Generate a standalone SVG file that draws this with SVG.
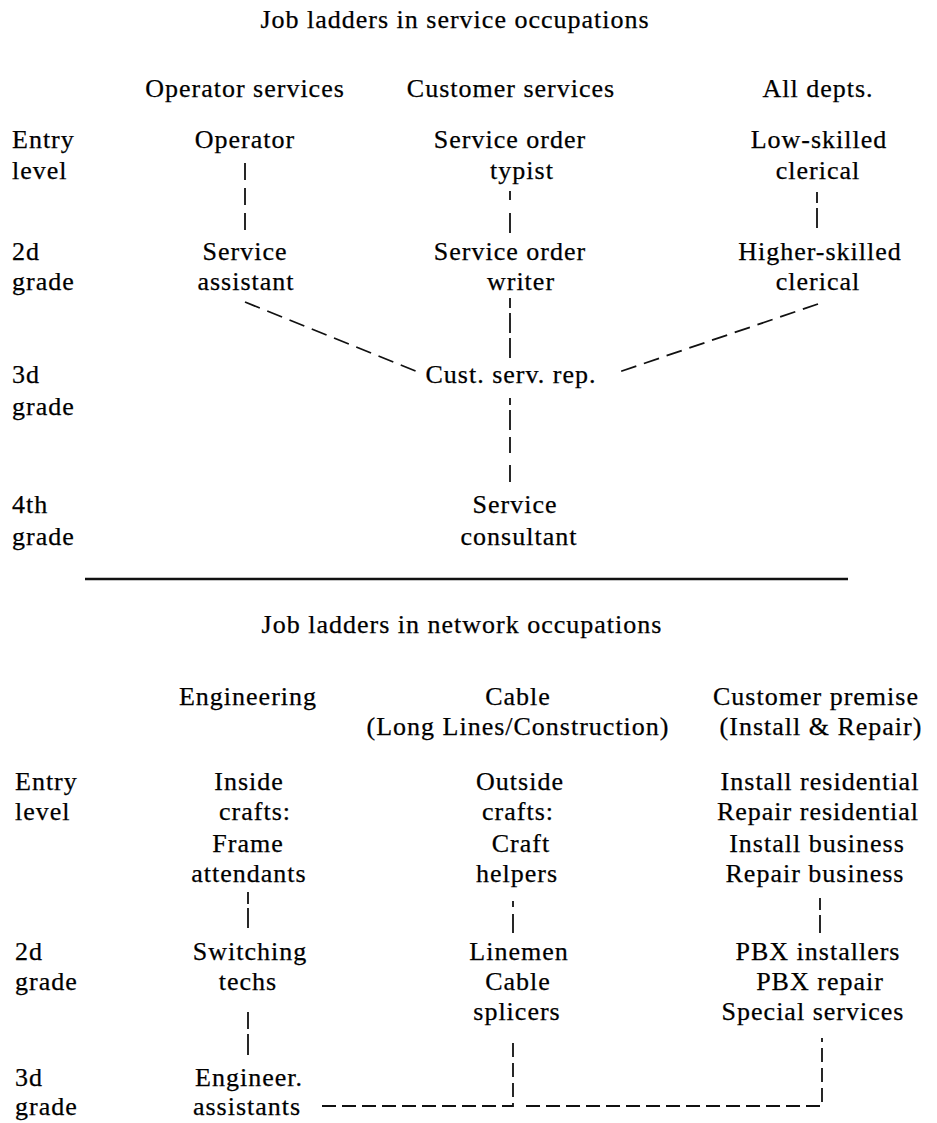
<svg xmlns="http://www.w3.org/2000/svg" width="937" height="1123" viewBox="0 0 937 1123">
<style>
text{font-family:"Liberation Serif","Times New Roman",serif;font-size:26px;letter-spacing:1px;fill:#000;stroke:#000;stroke-width:0.25}
.c{text-anchor:middle}
.dash{fill:none;stroke:#111;stroke-width:1.8;stroke-dasharray:17 8}
.hd{fill:none;stroke:#111;stroke-width:1.8;stroke-dasharray:14 6}
.rule{stroke:#111;stroke-width:2.5}
</style>
<rect width="937" height="1123" fill="#fff"/>

<!-- ===== Service occupations ===== -->
<g id="title-service"><text class="c" x="455" y="28">Job ladders in service occupations</text></g>
<g id="headers-service">
<text class="c" x="245" y="97">Operator services</text>
<text class="c" x="511" y="97">Customer services</text>
<text class="c" x="818" y="97">All depts.</text>
</g>
<g id="rows-service">
<text x="12" y="148">Entry<tspan x="12" y="179">level</tspan></text>
<text x="12" y="260">2d<tspan x="12" y="290">grade</tspan></text>
<text x="12" y="383">3d<tspan x="12" y="415">grade</tspan></text>
<text x="12" y="513">4th<tspan x="12" y="545">grade</tspan></text>
</g>
<g id="operator"><text class="c" x="245" y="148">Operator</text></g>
<g id="service-order-typist"><text class="c" x="510" y="148">Service order<tspan x="522" y="179">typist</tspan></text></g>
<g id="low-skilled-clerical"><text class="c" x="819" y="148">Low-skilled<tspan x="818" y="179">clerical</tspan></text></g>
<g id="service-assistant"><text class="c" x="245" y="260">Service<tspan x="246" y="290">assistant</tspan></text></g>
<g id="service-order-writer"><text class="c" x="510" y="260">Service order<tspan x="521" y="290">writer</tspan></text></g>
<g id="higher-skilled-clerical"><text class="c" x="820" y="260">Higher-skilled<tspan x="818" y="290">clerical</tspan></text></g>
<g id="cust-serv-rep"><text class="c" x="511" y="383">Cust. serv. rep.</text></g>
<g id="service-consultant"><text class="c" x="515" y="513">Service<tspan x="519" y="545">consultant</tspan></text></g>

<g id="divider"><line class="rule" x1="85" y1="579" x2="848" y2="579"/></g>

<!-- ===== Network occupations ===== -->
<g id="title-network"><text class="c" x="462" y="633">Job ladders in network occupations</text></g>
<g id="headers-network">
<text class="c" x="248" y="705">Engineering</text>
<text class="c" x="518" y="705">Cable<tspan x="518" y="735">(Long Lines/Construction)</tspan></text>
<text class="c" x="816" y="705">Customer premise<tspan x="821" y="735">(Install &amp; Repair)</tspan></text>
</g>
<g id="rows-network">
<text x="15" y="790">Entry<tspan x="15" y="820">level</tspan></text>
<text x="15" y="960">2d<tspan x="15" y="990">grade</tspan></text>
<text x="15" y="1086">3d<tspan x="15" y="1115">grade</tspan></text>
</g>
<g id="inside-crafts"><text class="c" x="249" y="790">Inside<tspan x="255" y="820">crafts:</tspan><tspan x="248" y="852">Frame</tspan><tspan x="249" y="882">attendants</tspan></text></g>
<g id="outside-crafts"><text class="c" x="520" y="790">Outside<tspan x="518" y="820">crafts:</tspan><tspan x="521" y="852">Craft</tspan><tspan x="517" y="882">helpers</tspan></text></g>
<g id="customer-premise-entry"><text class="c" x="820" y="790">Install residential<tspan x="818" y="820">Repair residential</tspan><tspan x="817" y="852">Install business</tspan><tspan x="815" y="882">Repair business</tspan></text></g>
<g id="switching-techs"><text class="c" x="250" y="960">Switching<tspan x="248" y="990">techs</tspan></text></g>
<g id="linemen-splicers"><text class="c" x="519" y="960">Linemen<tspan x="518" y="990">Cable</tspan><tspan x="517" y="1020">splicers</tspan></text></g>
<g id="pbx"><text class="c" x="818" y="960">PBX installers<tspan x="820" y="990">PBX repair</tspan><tspan x="813" y="1020">Special services</tspan></text></g>
<g id="engineer-assistants"><text class="c" x="249" y="1086">Engineer.<tspan x="247" y="1115">assistants</tspan></text></g>

<g id="connectors">
<line class="dash" x1="245" y1="163" x2="245" y2="231"/>
<line class="dash" x1="510" y1="191" x2="510" y2="233" style="stroke-dasharray:9 13 21"/>
<line class="dash" x1="817" y1="192" x2="817" y2="228" style="stroke-dasharray:11 5 20"/>
<line class="dash" x1="510" y1="298" x2="510" y2="358" style="stroke-dasharray:10 5 20 5 20"/>
<line class="dash" x1="245" y1="302" x2="418" y2="372" style="stroke-dasharray:16 8"/>
<line class="dash" x1="818" y1="304" x2="616" y2="373" style="stroke-dasharray:16 8"/>
<line class="dash" x1="510" y1="398" x2="510" y2="482" style="stroke-dasharray:7 5 20 7 16 12 17"/>
<line class="dash" x1="248" y1="892" x2="248" y2="928" style="stroke-dasharray:12 4 21"/>
<line class="dash" x1="513" y1="901" x2="513" y2="933" style="stroke-dasharray:6 7 19"/>
<line class="dash" x1="820" y1="898" x2="820" y2="933" style="stroke-dasharray:12 5 19"/>
<line class="dash" x1="248" y1="1012" x2="248" y2="1055" style="stroke-dasharray:17 5 21"/>
<path class="hd" d="M322 1106 H513 V1038"/>
<path class="hd" d="M526 1106 H822 V1038"/>
</g>
</svg>
